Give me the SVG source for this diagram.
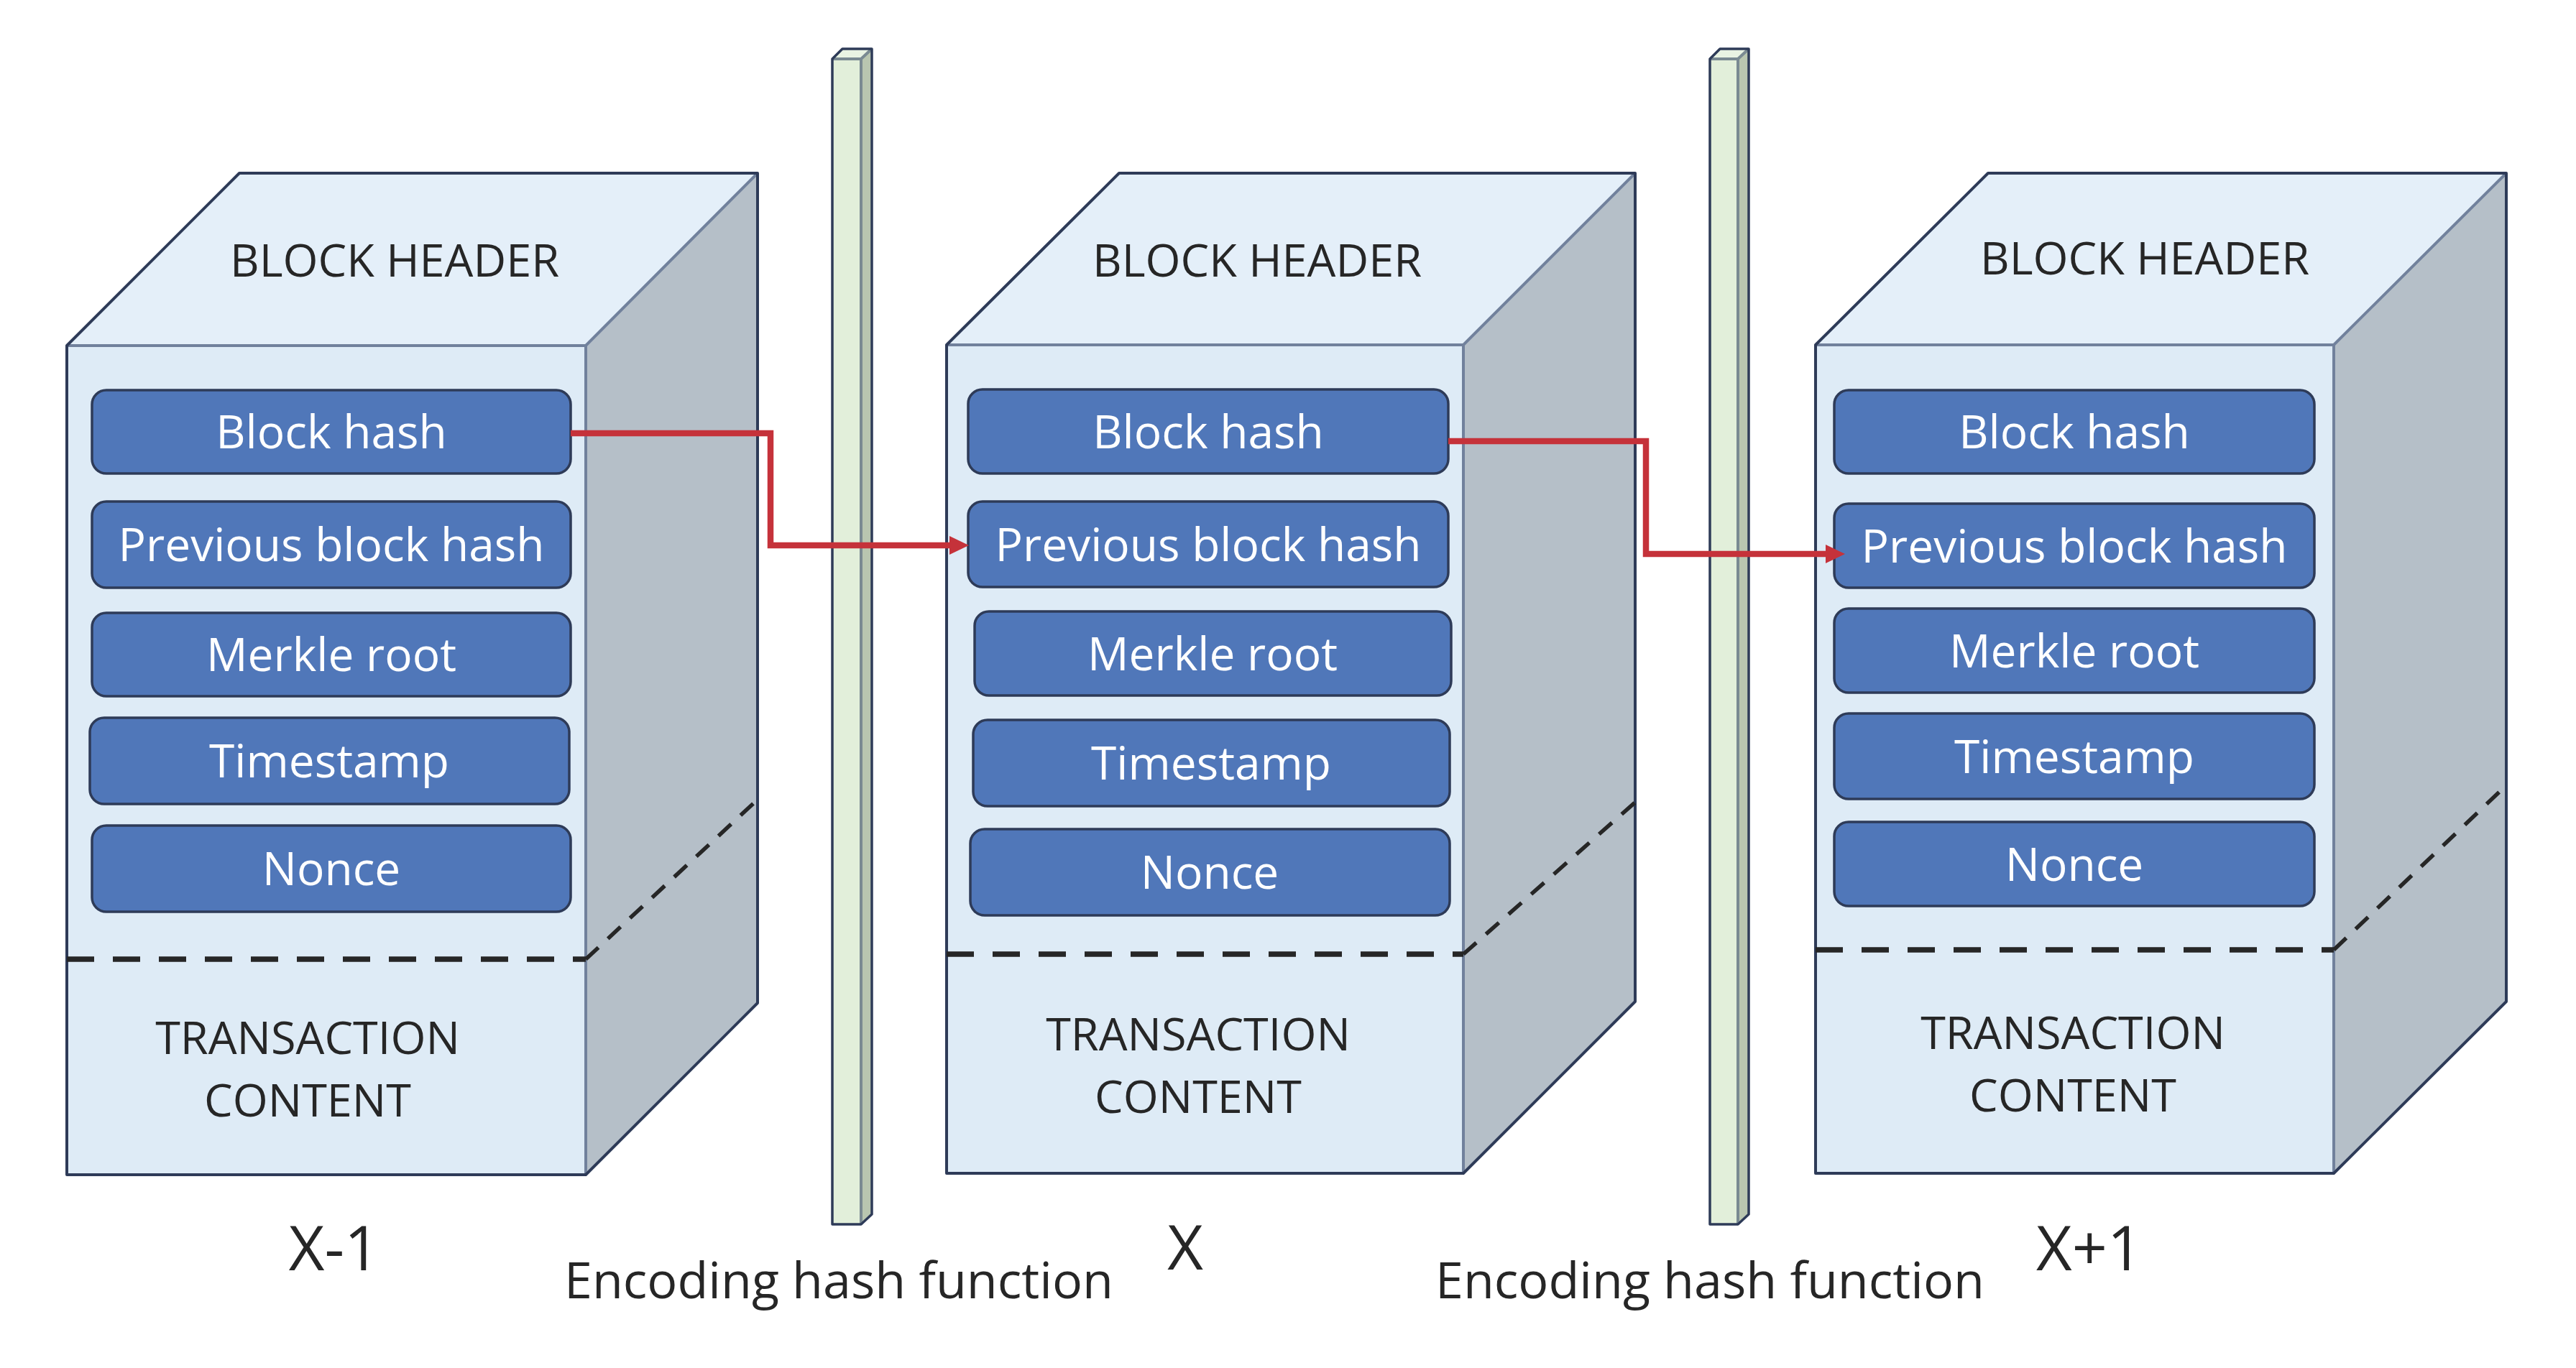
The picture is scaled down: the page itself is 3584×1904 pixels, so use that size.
<svg xmlns="http://www.w3.org/2000/svg" width="3584" height="1904" viewBox="0 0 3584 1904">
<defs>
<style>
.top{fill:#E4EFF9}
.front{fill:#DEEBF6}
.side{fill:#B5BFC8}
.sil{fill:none;stroke:#2E3B58;stroke-width:4;stroke-linejoin:round}
.inner{fill:none;stroke:#71819C;stroke-width:4}
.box{fill:#5077B9;stroke:#2E3B58;stroke-width:3.5}
.btxt{font-family:"Open Sans","Noto Sans","DejaVu Sans",sans-serif;font-size:64px;fill:#FFFFFF;text-anchor:middle}
.htxt{font-family:"Open Sans","Noto Sans","DejaVu Sans",sans-serif;font-size:63px;fill:#262626;text-anchor:middle}
.lbl{font-family:"Open Sans","Noto Sans","DejaVu Sans",sans-serif;font-size:86px;fill:#262626;text-anchor:middle}
.enc{font-family:"Open Sans","Noto Sans","DejaVu Sans",sans-serif;font-size:70px;fill:#262626;text-anchor:middle}
.dh{fill:none;stroke:#262626;stroke-width:7.5;stroke-dasharray:38 26}
.dd{fill:none;stroke:#262626;stroke-width:5.5;stroke-dasharray:24 18}
.gfront{fill:#E2EFDA}
.gtop{fill:#E9F3E3}
.gside{fill:#B9C6B0}
.ginner{fill:none;stroke:#7A8A92;stroke-width:4}
.conn{fill:none;stroke:#C5323A;stroke-width:8.5;stroke-linejoin:miter}
</style>
<marker id="arr" markerUnits="userSpaceOnUse" markerWidth="28" markerHeight="28" refX="0" refY="14" orient="auto">
<path d="M0,1 L27,14 L0,27 Z" fill="#C5323A"/>
</marker>
</defs>
<rect width="3584" height="1904" fill="#FFFFFF"/>

<g id="block-x-minus-1">
<polygon class="top" points="93,481 333,241 1054,241 815,481"/>
<rect class="front" x="93" y="481" width="722" height="1154"/>
<polygon class="side" points="815,481 1054,241 1054,1396 815,1635"/>
<path class="inner" d="M93,481 L815,481 L1054,241 M815,481 L815,1635"/>
<path class="sil" d="M93,481 L333,241 L1054,241 L1054,1396 L815,1635 L93,1635 Z"/>
<line class="dh" x1="93" y1="1335" x2="815" y2="1335"/>
<line class="dd" x1="815" y1="1335" x2="1056" y2="1111"/>
<text class="htxt" x="549" y="385">BLOCK HEADER</text>
<rect class="box" x="128" y="543" width="666" height="116" rx="20"/>
<text class="btxt" x="461" y="624">Block hash</text>
<rect class="box" x="128" y="698" width="666" height="120" rx="20"/>
<text class="btxt" x="461" y="781">Previous block hash</text>
<rect class="box" x="128" y="853" width="666" height="116" rx="20"/>
<text class="btxt" x="461" y="934">Merkle root</text>
<rect class="box" x="125" y="999" width="667" height="120" rx="20"/>
<text class="btxt" x="458" y="1082">Timestamp</text>
<rect class="box" x="128" y="1149" width="666" height="120" rx="20"/>
<text class="btxt" x="461" y="1232">Nonce</text>
<text class="htxt" x="428" y="1467">TRANSACTION</text>
<text class="htxt" x="428" y="1554">CONTENT</text>
</g>

<g id="block-x">
<polygon class="top" points="1317,480 1557,241 2275,241 2036,480"/>
<rect class="front" x="1317" y="480" width="719" height="1153"/>
<polygon class="side" points="2036,480 2275,241 2275,1394 2036,1633"/>
<path class="inner" d="M1317,480 L2036,480 L2275,241 M2036,480 L2036,1633"/>
<path class="sil" d="M1317,480 L1557,241 L2275,241 L2275,1394 L2036,1633 L1317,1633 Z"/>
<line class="dh" x1="1317" y1="1328" x2="2036" y2="1328"/>
<line class="dd" x1="2036" y1="1328" x2="2287" y2="1106"/>
<text class="htxt" x="1749" y="385">BLOCK HEADER</text>
<rect class="box" x="1347" y="542" width="668" height="117" rx="20"/>
<text class="btxt" x="1681" y="624">Block hash</text>
<rect class="box" x="1347" y="698" width="668" height="119" rx="20"/>
<text class="btxt" x="1681" y="781">Previous block hash</text>
<rect class="box" x="1356" y="851" width="663" height="117" rx="20"/>
<text class="btxt" x="1687" y="933">Merkle root</text>
<rect class="box" x="1354" y="1002" width="663" height="120" rx="20"/>
<text class="btxt" x="1685" y="1085">Timestamp</text>
<rect class="box" x="1350" y="1154" width="667" height="120" rx="20"/>
<text class="btxt" x="1683" y="1237">Nonce</text>
<text class="htxt" x="1667" y="1462">TRANSACTION</text>
<text class="htxt" x="1667" y="1549">CONTENT</text>
</g>

<g id="block-x-plus-1">
<polygon class="top" points="2526,480 2766,241 3487,241 3247,480"/>
<rect class="front" x="2526" y="480" width="721" height="1153"/>
<polygon class="side" points="3247,480 3487,241 3487,1394 3247,1633"/>
<path class="inner" d="M2526,480 L3247,480 L3487,241 M3247,480 L3247,1633"/>
<path class="sil" d="M2526,480 L2766,241 L3487,241 L3487,1394 L3247,1633 L2526,1633 Z"/>
<line class="dh" x1="2526" y1="1322" x2="3247" y2="1322"/>
<line class="dd" x1="3247" y1="1322" x2="3489" y2="1091"/>
<text class="htxt" x="2984" y="382">BLOCK HEADER</text>
<rect class="box" x="2552" y="543" width="668" height="116" rx="20"/>
<text class="btxt" x="2886" y="624">Block hash</text>
<rect class="box" x="2552" y="701" width="668" height="117" rx="20"/>
<text class="btxt" x="2886" y="783">Previous block hash</text>
<rect class="box" x="2552" y="847" width="668" height="117" rx="20"/>
<text class="btxt" x="2886" y="929">Merkle root</text>
<rect class="box" x="2552" y="993" width="668" height="119" rx="20"/>
<text class="btxt" x="2886" y="1076">Timestamp</text>
<rect class="box" x="2552" y="1144" width="668" height="117" rx="20"/>
<text class="btxt" x="2886" y="1226">Nonce</text>
<text class="htxt" x="2884" y="1460">TRANSACTION</text>
<text class="htxt" x="2884" y="1547">CONTENT</text>
</g>

<g id="hash-bar-1">
<rect class="gfront" x="1158" y="82" width="40" height="1622"/>
<polygon class="gtop" points="1158,82 1172,68 1213,68 1198,82"/>
<polygon class="gside" points="1198,82 1213,68 1213,1690 1198,1704"/>
<path class="ginner" d="M1158,82 L1198,82 L1213,68 M1198,82 L1198,1704"/>
<path class="sil" style="stroke-width:3.5" d="M1158,82 L1172,68 L1213,68 L1213,1690 L1198,1704 L1158,1704 Z"/>
</g>

<g id="hash-bar-2">
<rect class="gfront" x="2379" y="82" width="39" height="1622"/>
<polygon class="gtop" points="2379,82 2393,68 2433,68 2418,82"/>
<polygon class="gside" points="2418,82 2433,68 2433,1690 2418,1704"/>
<path class="ginner" d="M2379,82 L2418,82 L2433,68 M2418,82 L2418,1704"/>
<path class="sil" style="stroke-width:3.5" d="M2379,82 L2393,68 L2433,68 L2433,1690 L2418,1704 L2379,1704 Z"/>
</g>

<g id="connectors">
<path class="conn" d="M794,603 L1072,603 L1072,759 L1321,759" marker-end="url(#arr)"/>
<path class="conn" d="M2015,614 L2290,614 L2290,771 L2540,771" marker-end="url(#arr)"/>
</g>

<g id="labels">
<text class="lbl" x="465" y="1768">X-1</text>
<text class="lbl" x="1649" y="1767">X</text>
<text class="lbl" x="2907" y="1768">X+1</text>
<text class="enc" x="1167" y="1807">Encoding hash function</text>
<text class="enc" x="2379" y="1807">Encoding hash function</text>
</g>
</svg>
